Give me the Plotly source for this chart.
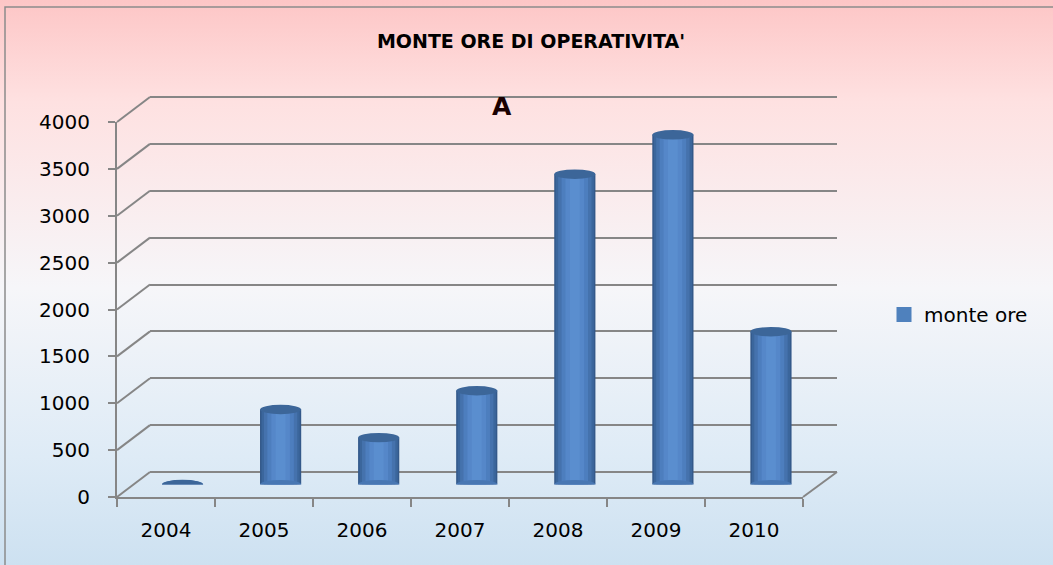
import plotly.graph_objects as go

anni = ['2004', '2005', '2006', '2007', '2008', '2009', '2010']
monte_ore = [0, 800, 500, 1000, 3310, 3730, 1630]
tick_ore = [0, 500, 1000, 1500, 2000, 2500, 3000, 3500, 4000]
serie = 'monte ore'
titolo = "MONTE ORE DI OPERATIVITA'"

W, H = 1053, 565
grigio = '#868686'
font = 'DejaVu Sans'


def dom_x(a, b):
    return [a / W, b / W]


def dom_y(bottom, top):
    return [1 - bottom / H, 1 - top / H]


# front axes, back wall, and the middle (depth) plane where the cylinders sit
front_x, front_y = dom_x(117, 803), dom_y(497, 122)
mid_x, mid_y = dom_x(133.5, 820), dom_y(484.5, 109.5)
ymax = 4000
# back wall: padded a bit so plotly keeps the gridlines at 0 and 4000
pad = 200
px_per = 375 / ymax
back_x, back_y = dom_x(150, 837), dom_y(472 + pad * px_per, 97 - pad * px_per)

fig = go.Figure()

# background gradient on a full-page subplot
fig.add_trace(go.Scatter(
    x=[0, 1, 1, 0, 0], y=[0, 0, 1, 1, 0], mode='lines', fill='toself',
    line=dict(width=0), hoverinfo='skip', showlegend=False,
    fillgradient=dict(type='vertical', colorscale=[
        [0, '#cde1f1'], [0.19, '#deebf6'], [0.49, '#f6f6f9'],
        [0.82, '#fee1e1'], [1, '#fdc6c6']]),
    xaxis='x', yaxis='y'))

# back wall gridlines (empty trace just to create the subplot)
fig.add_trace(go.Scatter(x=anni, y=[None] * len(anni), xaxis='x2', yaxis='y2',
                         showlegend=False, hoverinfo='skip'))
# front axes
fig.add_trace(go.Scatter(x=anni, y=[None] * len(anni), xaxis='x3', yaxis='y3',
                         showlegend=False, hoverinfo='skip'))

# cylinders: overlaid bars, dark edges to light centre
strati = [(0.42, '#34598a'), (0.39, '#3b669c'), (0.34, '#4572ad'),
          (0.27, '#4d7ebe'), (0.19, '#5587c9'), (0.10, '#5a8ecf')]
for w, c in strati:
    fig.add_trace(go.Bar(
        x=anni, y=monte_ore, width=[w] * len(anni), marker=dict(color=c, line=dict(width=0)),
        name=serie, showlegend=False, xaxis='x4', yaxis='y4', hoverinfo='skip'))
# legend entry (square swatch like excel)
fig.add_trace(go.Scatter(x=[None], y=[None], name=serie, mode='markers',
                         marker=dict(symbol='square', size=15, color='#4f81bd'),
                         xaxis='x4', yaxis='y4', showlegend=True))

shapes = []
# bottom and top ellipses of the cylinders
for i, v in enumerate(monte_ore):
    shapes.append(dict(type='circle', xref='x4', yref='y4', ysizemode='pixel', yanchor=0,
                       x0=i - 0.21, x1=i + 0.21, y0=-4.5, y1=4.5,
                       fillcolor='#4877b3', line=dict(width=0)))
    shapes.append(dict(type='circle', xref='x4', yref='y4', ysizemode='pixel', yanchor=v,
                       x0=i - 0.21, x1=i + 0.21, y0=-4.7, y1=4.7,
                       fillcolor='#3c6699', line=dict(width=0)))

# side wall diagonals joining front axis ticks to back gridlines
for t in tick_ore:
    yf = 1 - (497 - t * px_per) / H
    yb = 1 - (472 - t * px_per) / H
    shapes.append(dict(type='line', xref='paper', yref='paper', x0=117 / W, y0=yf,
                       x1=150 / W, y1=yb, line=dict(color=grigio, width=2)))
shapes.append(dict(type='line', xref='paper', yref='paper', x0=803 / W, y0=1 - 497 / H,
                   x1=837 / W, y1=1 - 472 / H, line=dict(color=grigio, width=2)))

# chart frame
shapes.append(dict(type='rect', xref='paper', yref='paper', x0=5 / W, y0=-0.05,
                   x1=1.05, y1=1 - 7 / H, line=dict(color='#8c8c8c', width=1.5)))

nascosto = dict(visible=False, fixedrange=True, automargin=False)
asse = dict(fixedrange=True, automargin=False, zeroline=False)
font_tick = dict(family=font, size=20, color='black')

fig.update_layout(
    width=W, height=H, autosize=False,
    margin=dict(l=0, r=0, t=0, b=0, pad=0, autoexpand=False),
    paper_bgcolor='white', plot_bgcolor='rgba(0,0,0,0)',
    barmode='overlay',
    font=dict(family=font, size=20, color='black'),
    title=dict(text='<b>' + titolo + '</b>', x=531 / W, y=1 - 41 / H,
               xanchor='center', yanchor='middle', automargin=False,
               font=dict(family=font, size=19, color='black')),
    xaxis=dict(domain=[0, 1], range=[0, 1], **nascosto),
    yaxis=dict(domain=[0, 1], range=[0, 1], **nascosto),
    xaxis2=dict(domain=back_x, anchor='y2', type='category', categoryarray=anni,
                range=[-0.5, 6.5], showgrid=False, showticklabels=False, showline=False, **asse),
    yaxis2=dict(domain=back_y, anchor='x2', range=[-pad, ymax + pad], tickvals=tick_ore,
                showgrid=True, gridcolor=grigio, gridwidth=2, showticklabels=False,
                showline=False, **asse),
    xaxis3=dict(domain=front_x, anchor='y3', type='category', categoryarray=anni,
                range=[-0.5, 6.5], tickson='boundaries', ticks='outside', ticklen=8,
                tickwidth=2, tickcolor=grigio, showline=True, linecolor=grigio, linewidth=2,
                showgrid=False, ticklabelstandoff=14, tickfont=font_tick, **asse),
    yaxis3=dict(domain=front_y, anchor='x3', range=[0, ymax], tickvals=tick_ore,
                ticks='outside', ticklen=7, tickwidth=2, tickcolor=grigio,
                showline=True, linecolor=grigio, linewidth=2, showgrid=False,
                ticklabelstandoff=14, tickfont=font_tick, **asse),
    xaxis4=dict(domain=mid_x, anchor='y4', type='category', categoryarray=anni,
                range=[-0.5, 6.5], **nascosto),
    yaxis4=dict(domain=mid_y, anchor='x4', range=[0, ymax], **nascosto),
    legend=dict(x=884 / W, y=1 - 314.5 / H, xanchor='left', yanchor='middle',
                bgcolor='rgba(0,0,0,0)', font=dict(family=font, size=20, color='black')),
    shapes=shapes,
    annotations=[dict(text='<b>A</b>', xref='paper', yref='paper', x=501.5 / W,
                      y=1 - 106.5 / H, showarrow=False, xanchor='center', yanchor='middle',
                      font=dict(family=font, size=25, color='#1a0000'))],
)

# no page margin, so the figure fills the window exactly
fig.write_html("out.html", config={'displayModeBar': False},
               post_script="document.body.style.margin='0';")
